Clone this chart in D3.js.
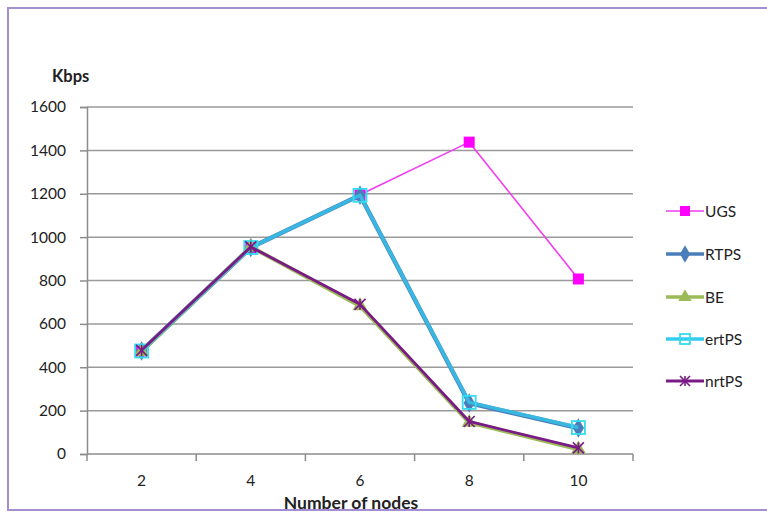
<!DOCTYPE html>
<html>
<head>
<meta charset="utf-8">
<script src="https://cdn.jsdelivr.net/npm/d3@7"></script>
<style>
  html, body { margin: 0; padding: 0; background: #fff; }
  svg { display: block; font-family: Lato, "Open Sans", sans-serif; }
</style>
</head>
<body>
<svg id="chart" width="767" height="512"></svg>
<script>
// Throughput per scheduling class vs. number of nodes
const nodes = [2, 4, 6, 8, 10];
const yTicks = [0, 200, 400, 600, 800, 1000, 1200, 1400, 1600];

const ugs   = [475, 952, 1195, 1438, 807];
const rtps  = [475, 952, 1193, 235, 120];
const be    = [472, 955, 683, 145, 22];
const ertps = [475, 952, 1193, 238, 122];
const nrtps = [478, 955, 690, 150, 28];

const seriesNames = ["UGS", "RTPS", "BE", "ertPS", "nrtPS"];

const styles = {
  UGS:   { color: "#f23cf0", width: 1.6, marker: "square", markerFill: "#ff00ff", markerStroke: "#ff00ff" },
  RTPS:  { color: "#4a7ebb", width: 4.5, marker: "diamond", markerFill: "#4a7ebb", markerStroke: "#4a7ebb" },
  BE:    { color: "#9bbb59", width: 4,   marker: "triangle", markerFill: "#9bbb59", markerStroke: "#9bbb59" },
  ertPS: { color: "#33ccee", width: 3.5, marker: "hollowSquare", markerFill: "none", markerStroke: "#33ddee", opacity: 0.75 },
  nrtPS: { color: "#7a1a86", width: 2.8, marker: "asterisk", markerFill: "none", markerStroke: "#7a1a86" }
};

const data = {
  UGS: ugs, RTPS: rtps, BE: be, ertPS: ertps, nrtPS: nrtps
};

const svg = d3.select("#chart");

// outer frame
svg.append("rect")
  .attr("x", 8).attr("y", 8).attr("width", 780).attr("height", 502)
  .attr("fill", "none").attr("stroke", "#a58fd0").attr("stroke-width", 2);

const margin = { left: 87, right: 633, top: 107, bottom: 454 };

const x = d3.scaleBand().domain(nodes).range([margin.left, margin.right]);
const y = d3.scaleLinear().domain([0, 1600]).range([margin.bottom, margin.top]);
const cx = d => x(d) + x.bandwidth() / 2;

// horizontal gridlines
svg.append("g")
  .selectAll("line")
  .data(yTicks.filter(t => t > 0))
  .join("line")
  .attr("x1", margin.left).attr("x2", margin.right)
  .attr("y1", d => y(d)).attr("y2", d => y(d))
  .attr("stroke", "#9a9a9a").attr("stroke-width", 1.5);

// y axis
const yAxis = svg.append("g")
  .attr("transform", `translate(${margin.left},0)`)
  .call(d3.axisLeft(y).tickValues(yTicks).tickSize(7).tickPadding(14).tickFormat(d3.format("d")));
yAxis.select(".domain").attr("stroke", "#8c8c8c").attr("stroke-width", 1.5);
yAxis.selectAll(".tick line").attr("stroke", "#8c8c8c").attr("stroke-width", 1.5);
yAxis.selectAll("text").attr("font-size", 15.5).attr("fill", "#222").attr("font-family", "Lato, sans-serif");

// x axis with ticks between categories
const xAxisG = svg.append("g").attr("transform", `translate(0,${margin.bottom})`);
xAxisG.append("line")
  .attr("x1", margin.left).attr("x2", margin.right)
  .attr("stroke", "#8c8c8c").attr("stroke-width", 1.5);
const boundaries = nodes.map(n => x(n)).concat([x(nodes[nodes.length - 1]) + x.bandwidth()]);
xAxisG.selectAll("line.tk")
  .data(boundaries)
  .join("line")
  .attr("class", "tk")
  .attr("x1", d => d).attr("x2", d => d)
  .attr("y1", 0).attr("y2", 7)
  .attr("stroke", "#8c8c8c").attr("stroke-width", 1.5);
xAxisG.selectAll("text")
  .data(nodes)
  .join("text")
  .attr("x", d => cx(d))
  .attr("y", 32)
  .attr("text-anchor", "middle")
  .attr("font-size", 15.5)
  .attr("fill", "#222")
  .text(d => d);

// axis titles
svg.append("text")
  .attr("x", 52).attr("y", 82)
  .attr("font-size", 16.5).attr("font-weight", "bold").attr("fill", "#222")
  .text("Kbps");
svg.append("text")
  .attr("x", 351).attr("y", 509)
  .attr("text-anchor", "middle")
  .attr("font-size", 17.5).attr("font-weight", "bold").attr("fill", "#222")
  .text("Number of nodes");

// marker drawing
function drawMarker(g, type, st, size) {
  const s = size;
  if (type === "square") {
    g.append("rect").attr("x", -s / 2).attr("y", -s / 2).attr("width", s).attr("height", s)
      .attr("fill", st.markerFill);
  } else if (type === "diamond") {
    g.append("path").attr("d", d3.symbol(d3.symbolDiamond, s * s * 0.9)())
      .attr("fill", st.markerFill);
  } else if (type === "triangle") {
    g.append("path").attr("d", d3.symbol(d3.symbolTriangle, s * s * 0.8)())
      .attr("fill", st.markerFill);
  } else if (type === "hollowSquare") {
    g.append("rect").attr("x", -s / 2).attr("y", -s / 2).attr("width", s).attr("height", s)
      .attr("fill", "none").attr("stroke", st.markerStroke).attr("stroke-width", 1.8);
  } else if (type === "asterisk") {
    const r = s / 2;
    [[-r, -r, r, r], [-r, r, r, -r], [0, -r, 0, r]].forEach(c => {
      g.append("line").attr("x1", c[0]).attr("y1", c[1]).attr("x2", c[2]).attr("y2", c[3])
        .attr("stroke", st.markerStroke).attr("stroke-width", 1.6);
    });
  }
}

const line = d3.line().x((d, i) => cx(nodes[i])).y(d => y(d));

// plot series in drawing order
seriesNames.forEach(name => {
  const st = styles[name];
  const vals = data[name];
  svg.append("path")
    .datum(vals)
    .attr("d", line)
    .attr("fill", "none")
    .attr("stroke", st.color)
    .attr("stroke-width", st.width)
    .attr("stroke-linejoin", "round")
    .attr("opacity", st.opacity || 1);
  vals.forEach((v, i) => {
    const g = svg.append("g").attr("transform", `translate(${cx(nodes[i])},${y(v)})`);
    drawMarker(g, st.marker, st, name === "ertPS" ? 13 : 11);
  });
});

// legend
const legendRowY = [211, 254, 297, 339, 381];
seriesNames.forEach((name, i) => {
  const st = styles[name];
  const g = svg.append("g").attr("transform", `translate(666,${legendRowY[i]})`);
  g.append("line").attr("x1", 0).attr("x2", 38).attr("y1", 0).attr("y2", 0)
    .attr("stroke", st.color).attr("stroke-width", Math.min(st.width, 3.5));
  const mg = g.append("g").attr("transform", "translate(19,0)");
  drawMarker(mg, st.marker, st, 10);
  g.append("text").attr("x", 39).attr("y", 6)
    .attr("font-size", 15.5).attr("fill", "#222").text(name);
});
</script>
</body>
</html>
